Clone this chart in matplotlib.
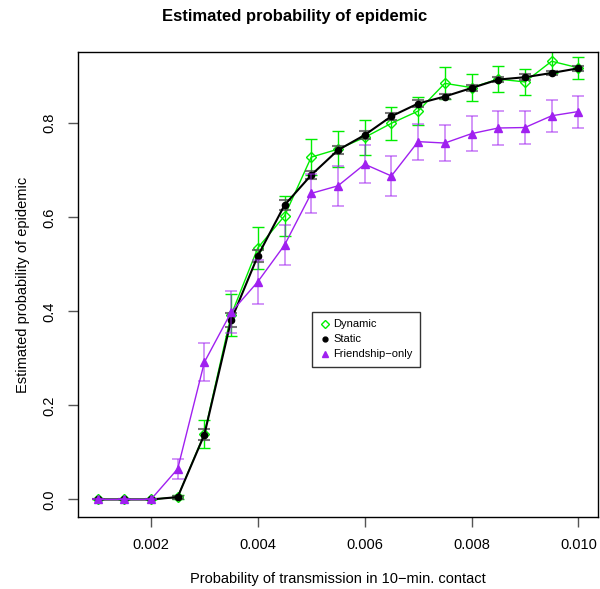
import matplotlib
matplotlib.use('Agg')
import matplotlib.pyplot as plt
from matplotlib.lines import Line2D

plt.rcParams['font.family'] = ['Liberation Sans', 'DejaVu Sans']

# transmission probabilities
p = [0.001, 0.0015, 0.002, 0.0025, 0.003, 0.0035, 0.004, 0.0045, 0.005, 0.0055,
     0.006, 0.0065, 0.007, 0.0075, 0.008, 0.0085, 0.009, 0.0095, 0.010]

dynamic = [0, 0, 0, 0.005, 0.140, 0.392, 0.535, 0.603, 0.728, 0.745,
           0.770, 0.800, 0.826, 0.885, 0.876, 0.894, 0.888, 0.932, 0.918]
dynamic_err = [0, 0, 0, 0.004, 0.030, 0.045, 0.045, 0.043, 0.039, 0.039,
               0.037, 0.035, 0.030, 0.034, 0.029, 0.027, 0.027, 0.024, 0.024]

static = [0, 0, 0, 0.005, 0.138, 0.381, 0.518, 0.626, 0.690, 0.743,
          0.775, 0.815, 0.842, 0.857, 0.875, 0.893, 0.898, 0.907, 0.917]
static_err = [0, 0, 0, 0.003, 0.012, 0.015, 0.012, 0.010, 0.008, 0.008,
              0.008, 0.007, 0.007, 0.006, 0.006, 0.006, 0.006, 0.005, 0.005]

friend = [0, 0, 0, 0.065, 0.292, 0.398, 0.463, 0.541, 0.651, 0.667,
          0.713, 0.688, 0.761, 0.758, 0.778, 0.790, 0.791, 0.816, 0.825]
friend_err = [0, 0, 0, 0.022, 0.041, 0.045, 0.047, 0.043, 0.042, 0.042,
              0.040, 0.042, 0.038, 0.038, 0.037, 0.036, 0.036, 0.034, 0.034]

green = '#00EE00'
purple = '#A020F0'

fig = plt.figure(figsize=(6, 5.89), dpi=100)
ax = fig.add_axes([0.1305, 0.1217, 0.8655, 0.7895])

# dynamic
ax.errorbar(p, dynamic, yerr=dynamic_err, fmt='none', ecolor=green,
            elinewidth=1, capsize=4, capthick=1, zorder=2)
ax.plot(p, dynamic, color=green, lw=1, marker='D', ms=5.5, mfc='none',
        mec=green, mew=1, zorder=3)

# static
ax.errorbar(p, static, yerr=static_err, fmt='none', ecolor='#555555',
            elinewidth=1, capsize=4, capthick=1.5, alpha=0.8, zorder=4)
ax.plot(p, static, color='black', lw=1.5, marker='o', ms=4.5, zorder=5)

# friendship-only
ax.errorbar(p, friend, yerr=friend_err, fmt='none', ecolor=purple,
            elinewidth=1.2, capsize=4, capthick=1.2, alpha=0.55, zorder=6)
ax.plot(p, friend, color=purple, lw=1, marker='^', ms=6, mec=purple, zorder=7)

ax.set_xlim(0.00064, 0.01036)
ax.set_ylim(-0.038, 0.951)
ax.set_xticks([0.002, 0.004, 0.006, 0.008, 0.010])
ax.set_xticklabels(['0.002', '0.004', '0.006', '0.008', '0.010'])
ax.set_yticks([0.0, 0.2, 0.4, 0.6, 0.8])
ax.set_yticklabels(['0.0', '0.2', '0.4', '0.6', '0.8'], rotation=90, va='center')
ax.tick_params(direction='out', length=7, width=1, color='#555555',
               labelsize=10.5, pad=8)
ax.tick_params(axis='y', pad=9)
for s in ax.spines.values():
    s.set_linewidth(1)

ax.set_xlabel('Probability of transmission in 10\u2212min. contact', fontsize=10.5, labelpad=14)
ax.set_ylabel('Estimated probability of epidemic', fontsize=10.5, labelpad=9)
fig.text(295 / 600, 1 - 16 / 589, 'Estimated probability of epidemic',
         ha='center', va='center', fontsize=12, fontweight='bold')

handles = [
    Line2D([], [], ls='none', marker='D', ms=4.5, mfc='none', mec=green, mew=1),
    Line2D([], [], ls='none', marker='o', ms=3.5, color='black'),
    Line2D([], [], ls='none', marker='^', ms=5, color=purple),
]
leg = ax.legend(handles, ['Dynamic', 'Static', 'Friendship\u2212only'],
                loc='upper left', bbox_to_anchor=((312 - 78.3) / 519.4, (517.3 - 311.7) / 465),
                fontsize=8, frameon=True, fancybox=False, borderpad=0.7,
                handletextpad=0.3, handlelength=0.9, labelspacing=0.45,
                borderaxespad=0)
leg.get_frame().set_edgecolor('black')
leg.get_frame().set_linewidth(1)

fig.savefig('out.png', dpi=100)
